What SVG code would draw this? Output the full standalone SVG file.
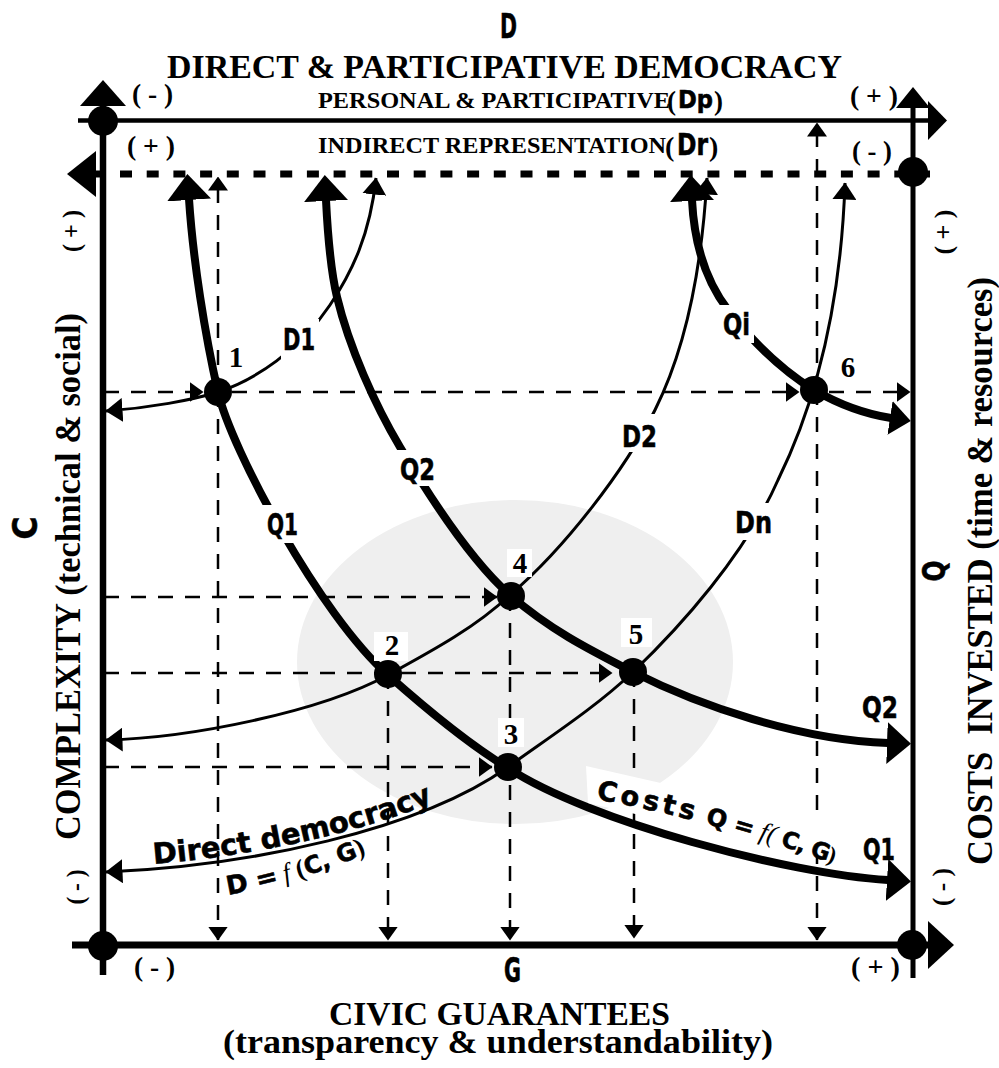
<svg xmlns="http://www.w3.org/2000/svg" width="999" height="1068" viewBox="0 0 999 1068">
<style>
text{fill:#000}
.sb{font-family:"Liberation Serif","Times New Roman",serif;font-weight:bold}
.si{font-family:"Liberation Serif","Times New Roman",serif;font-style:italic;font-weight:normal}
.cb{font-family:"DejaVu Sans","Liberation Sans",sans-serif;font-weight:bold;stroke:#000;stroke-width:0.6}
.dash{fill:none;stroke:#000;stroke-width:2.5;stroke-dasharray:15 12}
.thin{fill:none;stroke:#000;stroke-width:3}
.thick{fill:none;stroke:#000;stroke-width:8}
.bg{fill:#fff}
.num{font-family:"Liberation Serif","Times New Roman",serif;font-weight:bold;font-size:29px;text-anchor:middle}
.lab{font-size:31px}
</style>
<defs>
<marker id="mDash" markerUnits="userSpaceOnUse" viewBox="0 0 14 20" refX="13.5" refY="10" markerWidth="14" markerHeight="20" orient="auto-start-reverse"><path d="M0,0L14,10L0,20z"/></marker>
<marker id="mThin" markerUnits="userSpaceOnUse" viewBox="0 0 17 24" refX="16.5" refY="12" markerWidth="17" markerHeight="24" orient="auto-start-reverse"><path d="M0,0L17,12L0,24z"/></marker>
<marker id="mBig" markerUnits="userSpaceOnUse" viewBox="0 0 26 44" refX="1" refY="22" markerWidth="26" markerHeight="44" orient="auto-start-reverse"><path d="M0,0L26,22L0,44z"/></marker>
<marker id="mQ" markerUnits="userSpaceOnUse" viewBox="0 0 24 42" refX="1" refY="21" markerWidth="24" markerHeight="42" orient="auto"><path d="M0,0L24,21L0,42z"/></marker>
<marker id="mQi" markerUnits="userSpaceOnUse" viewBox="0 0 21 34" refX="1" refY="17" markerWidth="21" markerHeight="34" orient="auto"><path d="M0,0L21,17L0,34z"/></marker>
<path id="pDirect" d="M106,867 C250,861 420,825 508,762"/>
<path id="pDf" d="M228,895 C280,886 330,870 386,845"/>
<path id="pCosts" d="M596,799 Q715,821 840,866"/>
</defs>
<rect width="999" height="1068" fill="#fff"/>
<ellipse id="zone" cx="515" cy="662" rx="218" ry="162" fill="#efefef"/>

<g id="axis-C">
<path d="M103,104 V975" stroke="#000" stroke-width="6.5"/>
<path d="M103,80 L126,106 L80,106 Z"/>
</g>
<g id="line-Dp">
<path d="M78,120.5 H929" stroke="#000" stroke-width="4.5"/>
<path d="M928,101 L947,120.5 L928,140 Z"/>
<circle cx="103" cy="121" r="15"/>
</g>
<g id="line-Dr">
<path d="M120,174 H930" stroke="#000" stroke-width="7" stroke-dasharray="12 14.7"/>
<path d="M67,174 L96,151 L96,197 Z"/>
<path d="M95,174 H104" stroke="#000" stroke-width="7"/>
<circle cx="913" cy="172" r="15"/>
</g>
<g id="axis-Q">
<path d="M913,104 V978" stroke="#000" stroke-width="5"/>
<path d="M913,87 L930,108 L896,108 Z"/>
</g>
<g id="axis-G">
<path d="M72,945 H929" stroke="#000" stroke-width="7"/>
<path d="M928,921 L954,945 L928,969 Z"/>
<circle cx="103" cy="946" r="15"/>
<circle cx="912" cy="945" r="15"/>
</g>

<g id="connectors">
<path class="dash" d="M218,392 V177" marker-end="url(#mDash)"/>
<path class="dash" d="M218,392 V940" marker-end="url(#mDash)"/>
<path class="dash" d="M388,674 V940" marker-end="url(#mDash)"/>
<path class="dash" d="M510,596 V940" marker-end="url(#mDash)"/>
<path class="dash" d="M634,672 V938" marker-end="url(#mDash)"/>
<path class="dash" d="M817,390 V123" marker-end="url(#mDash)"/>
<path class="dash" d="M817,390 V940" marker-end="url(#mDash)"/>
<path class="dash" d="M104,392 H203" marker-end="url(#mDash)"/>
<path class="dash" d="M232,392 H799" marker-end="url(#mDash)"/>
<path class="dash" d="M829,392 H910" marker-end="url(#mDash)"/>
<path class="dash" d="M104,597 H497" marker-end="url(#mDash)"/>
<path class="dash" d="M104,673 H612" marker-end="url(#mDash)"/>
<path class="dash" d="M104,767 H492" marker-end="url(#mDash)"/>

<path id="Q1" class="thick" d="M189,199 C193,260 205,335 218,392 C231,449 320,615 388,675 C433,715 470,745 508,768 C590,822 790,874 888,880" marker-start="url(#mBig)" marker-end="url(#mQ)"/>
<path id="Q2" class="thick" d="M326,200 C328,240 331,272 337,297 C349,347 375,405 400,447 C425,489 470,560 510,595 C550,630 590,650 633,672 C700,706 800,740 888,743" marker-start="url(#mBig)" marker-end="url(#mQ)"/>
<path id="Qi" class="thick" d="M692,200 C694,240 705,280 728,310 C755,345 785,372 814,390 C840,405 865,414 891,418" marker-start="url(#mBig)" marker-end="url(#mQi)"/>
<path id="D1" class="thin" d="M106,411 C150,408 192,400 218,392 C255,380 300,350 330,305 C352,272 370,235 376,178" marker-start="url(#mThin)" marker-end="url(#mThin)"/>
<path id="D2" class="thin" d="M106,740 C190,738 320,712 388,675 C430,652 475,628 510,595 C565,548 625,470 655,410 C675,370 700,300 707,178" marker-start="url(#mThin)" marker-end="url(#mThin)"/>
<path id="Dn" class="thin" d="M106,872 C250,866 420,830 508,767 C548,738 595,708 633,672 C680,627 745,555 778,480 C805,425 840,330 845,183" marker-start="url(#mThin)" marker-end="url(#mThin)"/>
</g>

<g id="p1"><circle cx="218" cy="392" r="14"/><text class="num" x="236" y="367">1</text></g>
<g id="p2"><rect class="bg" x="374" y="632" width="34" height="29"/><circle cx="388" cy="674" r="14"/><text class="num" x="392" y="655">2</text></g>
<g id="p3"><rect class="bg" x="498" y="718" width="26" height="29"/><circle cx="508" cy="767" r="14"/><text class="num" x="511" y="744">3</text></g>
<g id="p4"><rect class="bg" x="507" y="549" width="25" height="28"/><circle cx="511" cy="596" r="14"/><text class="num" x="520" y="573">4</text></g>
<g id="p5"><rect class="bg" x="621" y="618" width="31" height="29"/><circle cx="633" cy="672" r="14"/><text class="num" x="636" y="644">5</text></g>
<g id="p6"><circle cx="814" cy="390" r="14"/><text class="num" x="848" y="377">6</text></g>

<g id="lbl-D1"><rect class="bg" x="281" y="319" width="38" height="40"/><text class="cb lab" x="283" y="350" textLength="32" lengthAdjust="spacingAndGlyphs">D1</text></g>
<g id="lbl-Q2a"><rect class="bg" x="395" y="450" width="45" height="36"/><text class="cb lab" x="400" y="480" textLength="35" lengthAdjust="spacingAndGlyphs">Q2</text></g>
<g id="lbl-Q1a"><rect class="bg" x="261" y="505" width="40" height="38"/><text class="cb lab" x="267" y="535" textLength="31" lengthAdjust="spacingAndGlyphs">Q1</text></g>
<g id="lbl-D2"><rect class="bg" x="620" y="414" width="40" height="38"/><text class="cb lab" x="622" y="447" textLength="35" lengthAdjust="spacingAndGlyphs">D2</text></g>
<g id="lbl-Qi"><rect class="bg" x="719" y="305" width="35" height="38"/><text class="cb lab" x="723" y="335" textLength="27" lengthAdjust="spacingAndGlyphs">Qi</text></g>
<g id="lbl-Dn"><rect class="bg" x="732" y="503" width="43" height="37"/><text class="cb lab" x="735" y="533" textLength="37" lengthAdjust="spacingAndGlyphs">Dn</text></g>
<g id="lbl-Q2b"><text class="cb lab" x="862" y="718" textLength="36" lengthAdjust="spacingAndGlyphs">Q2</text></g>
<g id="lbl-Q1b"><text class="cb lab" x="863" y="860" textLength="32" lengthAdjust="spacingAndGlyphs">Q1</text></g>

<g id="lbl-direct">
<text class="cb" font-size="29"><textPath href="#pDirect" startOffset="48">Direct democracy</textPath></text>
<text font-size="26"><textPath href="#pDf"><tspan class="cb">D =</tspan><tspan class="si" stroke="none"> f </tspan><tspan class="sb" font-weight="normal">(</tspan><tspan class="cb" font-size="24">C, G</tspan><tspan class="sb" font-weight="normal">)</tspan></textPath></text>
</g>
<g id="lbl-costs">
<path class="bg" d="M586,766 L850,826 L842,862 L588,803 Z"/>
<text><textPath href="#pCosts"><tspan class="cb" font-size="27" letter-spacing="4">Costs</tspan><tspan class="cb" font-size="24"> Q =</tspan><tspan class="si" font-size="26"> f(</tspan><tspan class="cb" font-size="23" letter-spacing="-1"> C, G</tspan><tspan class="sb" font-size="23" font-weight="normal">)</tspan></textPath></text>
</g>

<g id="titles">
<text class="cb" x="508.5" y="38" font-size="34" text-anchor="middle" textLength="17" lengthAdjust="spacingAndGlyphs">D</text>
<text class="sb" x="167" y="78" font-size="34" textLength="675" lengthAdjust="spacingAndGlyphs">DIRECT &amp; PARTICIPATIVE DEMOCRACY</text>
<text class="sb" x="318" y="108" font-size="23" textLength="352" lengthAdjust="spacingAndGlyphs">PERSONAL &amp; PARTICIPATIVE</text>
<text class="sb" x="667" y="110" font-size="27" font-weight="normal">(</text>
<text class="cb" x="678" y="108" font-size="25" textLength="35" lengthAdjust="spacingAndGlyphs">Dp</text>
<text class="sb" x="714" y="110" font-size="27" font-weight="normal">)</text>
<text class="sb" x="318" y="153" font-size="23" textLength="348" lengthAdjust="spacingAndGlyphs">INDIRECT REPRESENTATION</text>
<text class="sb" x="665" y="156" font-size="28" font-weight="normal">(</text>
<text class="cb" x="677" y="155" font-size="30" textLength="31" lengthAdjust="spacingAndGlyphs">Dr</text>
<text class="sb" x="709" y="156" font-size="28" font-weight="normal">)</text>
<text class="sb" x="132" y="103" font-size="27" textLength="41" lengthAdjust="spacingAndGlyphs" xml:space="preserve">( - )</text>
<text class="sb" x="127" y="155" font-size="27" textLength="48" lengthAdjust="spacingAndGlyphs" xml:space="preserve">( + )</text>
<text class="sb" x="850" y="105" font-size="27" textLength="48" lengthAdjust="spacingAndGlyphs" xml:space="preserve">( + )</text>
<text class="sb" x="852" y="160" font-size="27" textLength="40" lengthAdjust="spacingAndGlyphs" xml:space="preserve">( - )</text>
<text class="sb" x="134" y="976" font-size="27" textLength="41" lengthAdjust="spacingAndGlyphs" xml:space="preserve">( - )</text>
<text class="sb" x="851" y="976" font-size="27" textLength="49" lengthAdjust="spacingAndGlyphs" xml:space="preserve">( + )</text>
<text class="cb" x="512.5" y="982" font-size="33" text-anchor="middle" textLength="17" lengthAdjust="spacingAndGlyphs">G</text>
<text class="sb" x="499.5" y="1025" font-size="33.5" text-anchor="middle" textLength="341" lengthAdjust="spacingAndGlyphs">CIVIC GUARANTEES</text>
<text class="sb" x="498" y="1053" font-size="34" text-anchor="middle" textLength="550" lengthAdjust="spacingAndGlyphs">(transparency &amp; understandability)</text>
<text class="cb" transform="translate(37,528) rotate(-90)" font-size="34" text-anchor="middle" textLength="23" lengthAdjust="spacingAndGlyphs">C</text>
<text class="sb" transform="translate(80,576.5) rotate(-90)" font-size="36" text-anchor="middle" textLength="527" lengthAdjust="spacingAndGlyphs">COMPLEXITY (technical &amp; social)</text>
<text class="sb" transform="translate(80,231) rotate(-90)" font-size="25" text-anchor="middle" textLength="42" lengthAdjust="spacingAndGlyphs" xml:space="preserve">( + )</text>
<text class="sb" transform="translate(84,887) rotate(-90)" font-size="25" text-anchor="middle" textLength="35" lengthAdjust="spacingAndGlyphs" xml:space="preserve">( - )</text>
<text class="cb" transform="translate(945,571) rotate(-90)" font-size="32" text-anchor="middle" textLength="21" lengthAdjust="spacingAndGlyphs">Q</text>
<text class="sb" transform="translate(992,571) rotate(-90)" font-size="36" text-anchor="middle" textLength="588" lengthAdjust="spacingAndGlyphs" xml:space="preserve">COSTS  INVESTED (time &amp; resources)</text>
<text class="sb" transform="translate(952,232) rotate(-90)" font-size="25" text-anchor="middle" textLength="45" lengthAdjust="spacingAndGlyphs" xml:space="preserve">( + )</text>
<text class="sb" transform="translate(950,887) rotate(-90)" font-size="25" text-anchor="middle" textLength="38" lengthAdjust="spacingAndGlyphs" xml:space="preserve">( - )</text>
</g>
</svg>
